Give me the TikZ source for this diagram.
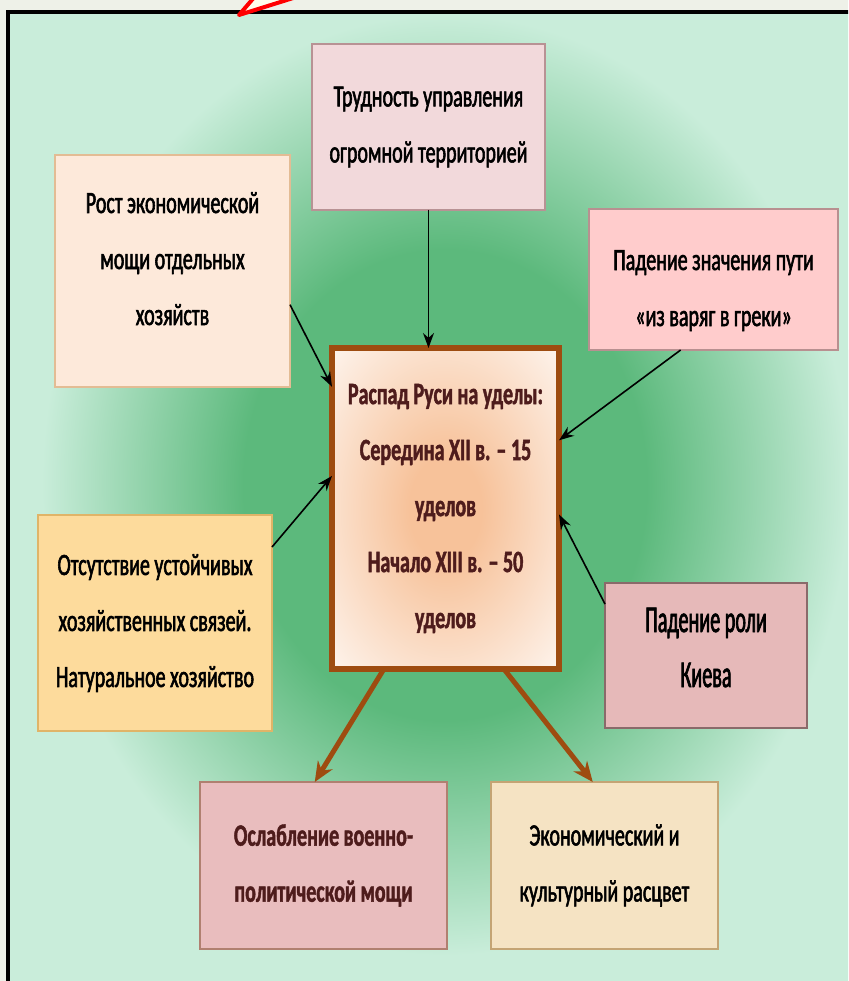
\documentclass[tikz,border=0pt]{standalone}
\usepackage{fontspec}
\setmainfont{Carlito}[FakeStretch=0.645,UprightFeatures={FakeBold=1.8},BoldFeatures={FakeBold=1.4}]
\newfontfamily\tallfont{Carlito}[FakeStretch=0.53,FakeBold=1.8]
\usetikzlibrary{arrows.meta}

\definecolor{outside}{HTML}{EEF1E8}
\definecolor{mint}{HTML}{C9EDDA}
\definecolor{glowgreen}{HTML}{5CB97C}
\definecolor{cream}{HTML}{FDF1E8}
\definecolor{peach}{HTML}{F7C29A}
\definecolor{brownline}{HTML}{9E4C10}
\definecolor{maroon}{HTML}{4E1C1C}
\definecolor{trudfill}{HTML}{F2D9DB}\definecolor{trudline}{HTML}{B89294}
\definecolor{rostfill}{HTML}{FDE9DA}\definecolor{rostline}{HTML}{E3BC94}
\definecolor{putfill}{HTML}{FFCCCC}\definecolor{putline}{HTML}{B89090}
\definecolor{svyazfill}{HTML}{FDDB9C}\definecolor{svyazline}{HTML}{E0B468}
\definecolor{kievfill}{HTML}{E6B9B9}\definecolor{kievline}{HTML}{8A6A6A}
\definecolor{oslabfill}{HTML}{E9BDBE}\definecolor{oslabline}{HTML}{B08070}
\definecolor{rascvetfill}{HTML}{F5E3C3}\definecolor{rascvetline}{HTML}{C4A474}

\pgfdeclareradialshading{glow}{\pgfpoint{0bp}{0bp}}{color(0bp)=(glowgreen); color(12bp)=(glowgreen); color(24bp)=(mint); color(50bp)=(mint)}
\pgfdeclareradialshading{centerglow}{\pgfpoint{0bp}{0bp}}{color(0bp)=(peach); color(8bp)=(peach); color(34bp)=(cream); color(50bp)=(cream)}

\begin{document}
\begin{tikzpicture}[x=1pt,y=-1pt,>={Stealth[length=15pt,width=11pt]},
  box/.style={draw,rectangle,align=center,inner sep=0pt,outer sep=0pt,line width=1.3pt,font=\fontsize{31}{56}\selectfont},
  heavy/.style={text=maroon,font=\bfseries\fontsize{31}{56}\selectfont},
  cause/.style={->,line width=1.6pt},
  result/.style={-{Stealth[length=20pt,width=17pt]},line width=5pt,brownline}]
\clip (0,0) rectangle (848,981);
% background and frame
\fill[outside] (0,0) rectangle (848,981);
\fill[mint] (8,12) rectangle (870,1000);
\begin{scope}
  \clip (8,12) rectangle (870,1000);
  \shade[shading=glow] (445,485) ellipse [x radius=420pt,y radius=490pt];
\end{scope}
\draw[black,line width=3.5pt] (8,12) rectangle (870,1000);
\filldraw[draw=red,fill=yellow!8,line width=4pt,line join=round] (306,-6) -- (239,15) -- (257,-6);
% nodes
\node[box,fill=trudfill,draw=trudline,minimum width=233pt,minimum height=166pt] (trud) at (428.5,127) {Трудность управления\\огромной территорией};
\node[box,fill=rostfill,draw=rostline,minimum width=235pt,minimum height=232pt,text height=108pt,text depth=0pt] (rost) at (172.5,271) {Рост экономической\\мощи отдельных\\хозяйств};
\node[box,fill=putfill,draw=putline,minimum width=249pt,minimum height=141pt,text height=93pt,text depth=0pt] (put) at (713.5,279.5) {Падение значения пути\\«из варяг в греки»};
\node[box,heavy,shade,shading=centerglow,draw=brownline,line width=6pt,minimum width=227pt,minimum height=321pt] (raspad) at (445.5,508.5) {Распад Руси на уделы:\\Середина XII в. – 15\\уделов\\Начало XIII в. – 50\\уделов};
\node[box,fill=svyazfill,draw=svyazline,minimum width=234pt,minimum height=216pt] (svyaz) at (155,623) {Отсутствие устойчивых\\хозяйственных связей.\\Натуральное хозяйство};
\node[box,fill=kievfill,draw=kievline,minimum width=202pt,minimum height=145pt,font=\tallfont\fontsize{38}{55}\selectfont,text height=63pt,text depth=0pt] (kiev) at (706,655.5) {Падение роли\\Киева};
\node[box,heavy,fill=oslabfill,draw=oslabline,minimum width=247pt,minimum height=167pt] (oslab) at (323.5,865.5) {Ослабление военно-\\политической мощи};
\node[box,fill=rascvetfill,draw=rascvetline,minimum width=227pt,minimum height=167pt] (rascvet) at (604.5,865.5) {Экономический и\\культурный расцвет};
% edges
\draw[cause] (trud.south) -- (trud.south |- raspad.north);
\draw[cause] (rost.-16) -- (raspad.133);
\draw[cause] (put.245) -- (raspad.31);
\draw[cause] (svyaz.33) -- (raspad.164);
\draw[cause] (kiev.153) -- (raspad.-3);
\draw[result] (raspad.249) -- (oslab.96);
\draw[result] (raspad.-70) -- (rascvet.98);
\end{tikzpicture}
\end{document}
